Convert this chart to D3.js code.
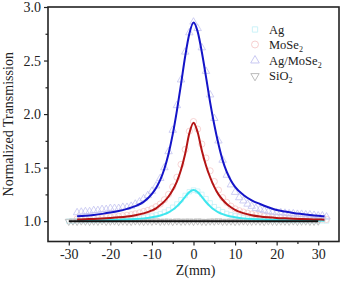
<!DOCTYPE html>
<html>
<head>
<meta charset="utf-8">
<script src="https://cdn.jsdelivr.net/npm/d3@7"></script>
<style>
  html, body { margin: 0; padding: 0; background: #fff; }
  svg { display: block; font-family: "Liberation Serif", "Times New Roman", serif; }
</style>
</head>
<body>
<svg id="chart" width="342" height="281"></svg>
<script>
// scan positions (mm) for the measured points
const zScan = [-30, -29, -28, -27, -26, -25, -24, -23, -22, -21, -20, -19, -18, -17, -16, -15, -14, -13, -12, -11,
  -10, -9, -8, -7, -6, -5, -4, -3, -2, -1, 0, 1, 2, 3, 4, 5, 6, 7, 8, 9, 10, 11, 12, 13, 14, 15, 16, 17, 18, 19,
  20, 21, 22, 23, 24, 25, 26, 27, 28, 29, 30, 31, 32];

const agPoints = [1.000, 1.000, 1.005, 1.005, 1.005, 1.008, 1.008, 1.010, 1.010, 1.012, 1.012, 1.015, 1.015, 1.018, 1.020, 1.022, 1.025, 1.030, 1.035, 1.040,
  1.048, 1.058, 1.070, 1.085, 1.105, 1.130, 1.160, 1.200, 1.240, 1.275, 1.290, 1.280, 1.250, 1.210, 1.170, 1.135, 1.108, 1.088, 1.072, 1.060,
  1.050, 1.042, 1.036, 1.030, 1.026, 1.022, 1.020, 1.018, 1.015, 1.013, 1.012, 1.010, 1.010, 1.008, 1.008, 1.006, 1.006, 1.005, 1.005, 1.004,
  1.004, 1.003, 1.002];

const moPoints = [null, null, 1.020, 1.022, 1.024, 1.026, 1.028, 1.030, 1.032, 1.035, 1.038, 1.041, 1.045, 1.050, 1.055, 1.060, 1.068, 1.078, 1.090, 1.100,
  1.115, 1.135, 1.160, 1.200, 1.250, 1.320, 1.410, 1.530, 1.670, 1.840, 1.930, 1.860, 1.720, 1.590, 1.470, 1.370, 1.290, 1.220, 1.175, 1.140,
  1.115, 1.098, 1.085, 1.075, 1.066, 1.058, 1.052, 1.047, 1.043, 1.040, 1.037, 1.034, 1.031, 1.029, 1.027, 1.025, 1.023, 1.021, 1.020, 1.019,
  1.018, 1.017, 1.016];

const agMoPoints = [null, null, 1.080, 1.085, 1.090, 1.090, 1.100, 1.100, 1.110, 1.110, 1.120, 1.120, 1.120, 1.130, 1.130, 1.140, 1.160, 1.180, 1.210, 1.240,
  1.280, 1.330, 1.400, 1.500, 1.650, 1.850, 2.080, 2.320, 2.580, 2.760, 2.860, 2.800, 2.620, 2.400, 2.180, 1.960, 1.750, 1.570, 1.430, 1.340,
  1.270, 1.220, 1.190, 1.160, 1.140, 1.120, 1.110, 1.100, 1.090, 1.085, 1.080, 1.080, 1.075, 1.070, 1.070, 1.065, 1.065, 1.060, 1.060, 1.055,
  1.050, 1.050, 1.040];

const sioPoints = [0.998, 1.000, 0.997, 1.001, 0.999, 0.996, 1.000, 0.998, 1.002, 0.997, 0.999, 1.001, 0.996, 1.000, 0.998, 0.997, 1.001, 0.999, 0.996, 1.000,
  0.998, 1.002, 0.997, 0.999, 1.000, 0.996, 1.001, 0.998, 0.999, 1.000, 0.997, 1.001, 0.998, 0.996, 1.000, 0.999, 1.002, 0.997, 0.998, 1.000,
  0.996, 0.999, 1.001, 0.997, 0.998, 1.000, 0.999, 0.996, 1.001, 0.998, 0.997, 1.000, 0.999, 0.998, 1.001, 0.996, 0.999, 1.000, 0.997, 0.998,
  1.000, null, null];

// fitted curves
const zFit = [-28, -26, -24, -22, -20, -18, -16, -14, -12, -10, -9, -8, -7, -6, -5, -4, -3, -2, -1, 0,
  1, 2, 3, 4, 5, 6, 7, 8, 9, 10, 12, 14, 16, 18, 20, 22, 24, 26, 28, 30, 31.5];

const agFit = [1.005, 1.006, 1.007, 1.008, 1.010, 1.012, 1.016, 1.020, 1.026, 1.037, 1.044, 1.053, 1.066, 1.083, 1.106, 1.138, 1.179, 1.227, 1.271, 1.290,
  1.271, 1.227, 1.179, 1.138, 1.106, 1.083, 1.066, 1.053, 1.044, 1.037, 1.026, 1.020, 1.016, 1.012, 1.010, 1.008, 1.007, 1.006, 1.005, 1.005, 1.004];

const moFit = [1.015, 1.018, 1.021, 1.025, 1.030, 1.036, 1.044, 1.056, 1.073, 1.100, 1.120, 1.150, 1.185, 1.230, 1.290, 1.370, 1.480, 1.630, 1.820, 1.920,
  1.830, 1.660, 1.520, 1.410, 1.320, 1.250, 1.200, 1.160, 1.130, 1.105, 1.075, 1.056, 1.044, 1.036, 1.030, 1.026, 1.022, 1.019, 1.017, 1.015, 1.014];

const agMoFit = [1.045, 1.050, 1.058, 1.068, 1.080, 1.095, 1.115, 1.140, 1.180, 1.255, 1.310, 1.385, 1.490, 1.630, 1.810, 2.030, 2.280, 2.540, 2.750, 2.855,
  2.770, 2.580, 2.350, 2.110, 1.900, 1.720, 1.570, 1.460, 1.380, 1.320, 1.245, 1.195, 1.160, 1.130, 1.105, 1.090, 1.077, 1.067, 1.058, 1.050, 1.045];

const zBase = [-30, -20, -10, 0, 10, 20, 30];
const sioFit = [1.0, 1.0, 1.0, 1.0, 1.0, 1.0, 1.0];

const legendNames = ["Ag", "MoSe", "Ag/MoSe", "SiO"];
const legendSubs = ["", "2", "2", "2"];

const xTicks = [-30, -20, -10, 0, 10, 20, 30];
const yTicks = [1.0, 1.5, 2.0, 2.5, 3.0];

const svg = d3.select("#chart");
const plotLeft = 48, plotRight = 339, plotTop = 7, plotBottom = 241.5;

const x = d3.scaleLinear().domain([-35, 35]).range([plotLeft, plotRight]);
const y = d3.scaleLinear().domain([0.81, 3.0]).range([plotBottom, plotTop]);

const series = [
  { pts: agPoints, fit: agFit, z: zFit, marker: d3.symbolSquare, size: 20, rot: 0, pale: "#c6f1f7", line: "#3ee6ee" },
  { pts: moPoints, fit: moFit, z: zFit, marker: d3.symbolCircle, size: 30, rot: 0, pale: "#f5c9c9", line: "#b41414" },
  { pts: agMoPoints, fit: agMoFit, z: zFit, marker: d3.symbolTriangle, size: 24, rot: 0, pale: "#c3c3f0", line: "#1414c8" },
  { pts: sioPoints, fit: sioFit, z: zBase, marker: d3.symbolTriangle, size: 22, rot: 180, pale: "#b4b4b4", line: "#111" }
];

// measured points (pale, hollow)
series.forEach(s => {
  const sym = d3.symbol().type(s.marker).size(s.size);
  svg.append("g")
    .selectAll("path")
    .data(zScan.map((z, i) => [z, s.pts[i]]).filter(d => d[1] !== null))
    .join("path")
    .attr("d", sym)
    .attr("transform", d => `translate(${x(d[0])},${y(d[1])}) rotate(${s.rot})`)
    .attr("fill", "none")
    .attr("stroke", s.pale)
    .attr("stroke-width", 0.8);
});

// fits on top
const line = d3.line().x(d => x(d[0])).y(d => y(d[1])).curve(d3.curveMonotoneX);
series.forEach(s => {
  svg.append("path")
    .datum(s.z.map((z, i) => [z, s.fit[i]]))
    .attr("d", line)
    .attr("fill", "none")
    .attr("stroke", s.line)
    .attr("stroke-width", 2);
});

// axes
const xAxis = d3.axisBottom(x).tickValues(xTicks).tickSize(4).tickPadding(4).tickFormat(d => String(d));
const xMinor = d3.axisBottom(x).tickValues([-25, -15, -5, 5, 15, 25]).tickSize(2.5).tickFormat("");
const yAxis = d3.axisLeft(y).tickValues(yTicks).tickSize(4).tickPadding(3).tickFormat(d => d.toFixed(1));
const yMinor = d3.axisLeft(y).tickValues([1.25, 1.75, 2.25, 2.75]).tickSize(2.5).tickFormat("");

function styleAxis(g) {
  g.select(".domain").remove();
  g.selectAll("line").attr("stroke", "#222").attr("stroke-width", 1.2);
  g.selectAll("text").attr("font-family", "Liberation Serif, serif").attr("font-size", 14).attr("fill", "#222");
}

svg.append("g").attr("transform", `translate(0,${plotBottom})`).call(xAxis).call(styleAxis);
svg.append("g").attr("transform", `translate(0,${plotBottom})`).call(xMinor).call(styleAxis);
svg.append("g").attr("transform", `translate(${plotLeft},0)`).call(yAxis).call(styleAxis);
svg.append("g").attr("transform", `translate(${plotLeft},0)`).call(yMinor).call(styleAxis);

svg.append("rect")
  .attr("x", plotLeft).attr("y", plotTop)
  .attr("width", plotRight - plotLeft).attr("height", plotBottom - plotTop)
  .attr("fill", "none").attr("stroke", "#222").attr("stroke-width", 1.6);

svg.append("text")
  .attr("x", (plotLeft + plotRight) / 2 + 2).attr("y", 275)
  .attr("text-anchor", "middle").attr("font-size", 14).attr("fill", "#222")
  .text("Z(mm)");

svg.append("text")
  .attr("transform", `translate(13,${(plotTop + plotBottom) / 2}) rotate(-90)`)
  .attr("text-anchor", "middle").attr("font-size", 14).attr("fill", "#222")
  .text("Normalized Transmission");

// legend
const legendY = [29.5, 44.5, 60.5, 76];
const legend = svg.append("g");
series.forEach((s, i) => {
  legend.append("path")
    .attr("d", d3.symbol().type(s.marker).size(s.size + 8))
    .attr("transform", `translate(255,${legendY[i]}) rotate(${s.rot})`)
    .attr("fill", "none").attr("stroke", s.pale).attr("stroke-width", 0.9);
  const t = legend.append("text")
    .attr("x", 269).attr("y", legendY[i] + 4)
    .attr("font-size", 12.5).attr("fill", "#222");
  t.append("tspan").text(legendNames[i]);
  if (legendSubs[i]) t.append("tspan").attr("font-size", 8).attr("dy", 3).text(legendSubs[i]);
});
</script>
</body>
</html>
